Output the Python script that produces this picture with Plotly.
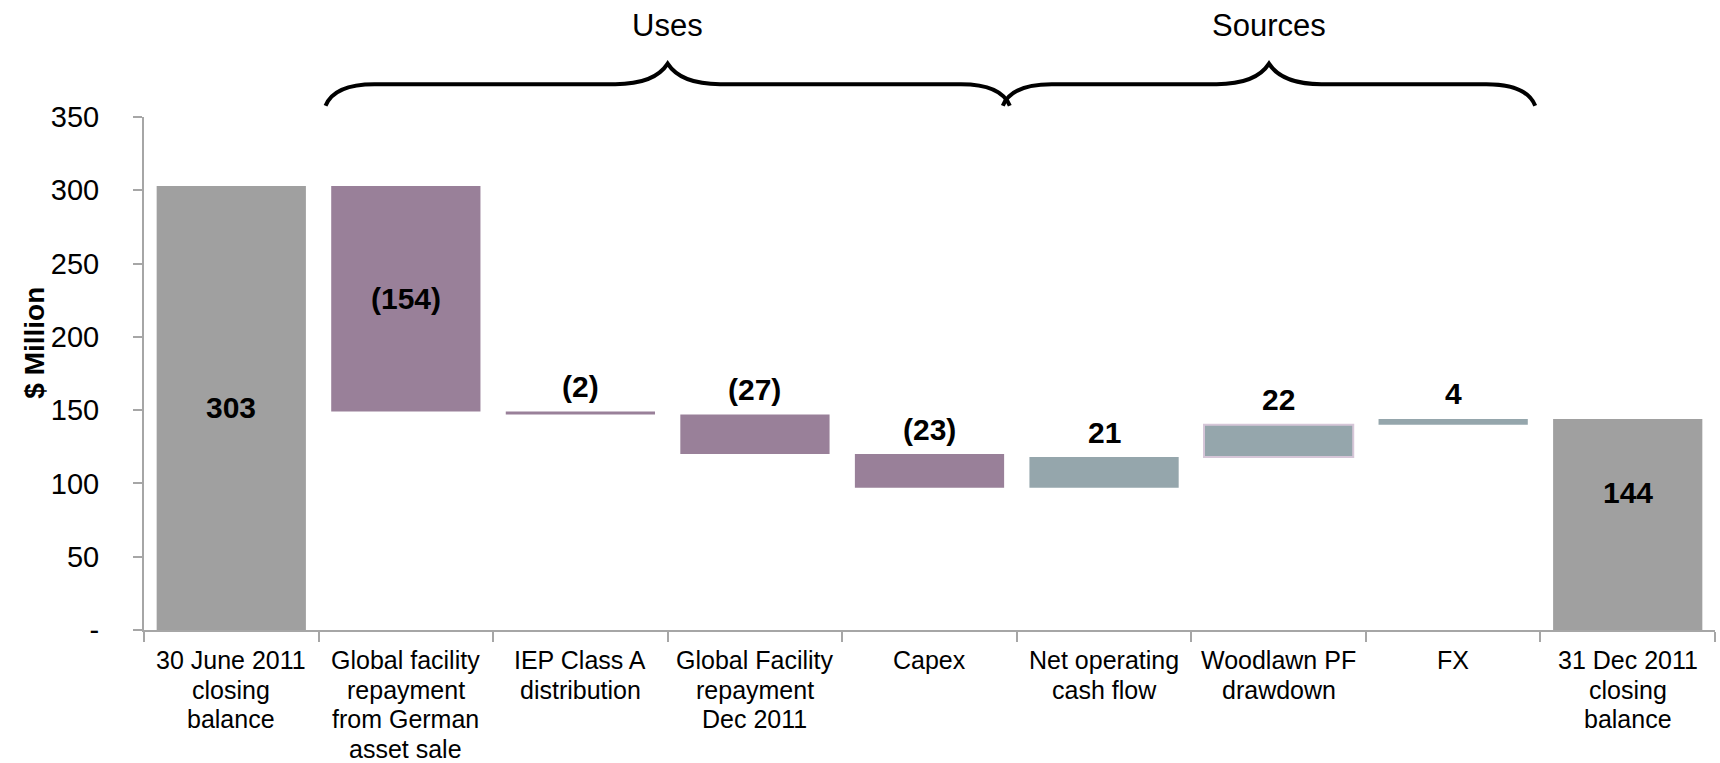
import plotly.graph_objects as go

categories = [
    "30 June 2011<br>closing<br>balance",
    "Global facility<br>repayment<br>from German<br>asset sale",
    "IEP Class A<br>distribution",
    "Global Facility<br>repayment<br>Dec 2011",
    "Capex",
    "Net operating<br>cash flow",
    "Woodlawn PF<br>drawdown",
    "FX",
    "31 Dec 2011<br>closing<br>balance",
]
opening = 303
changes = [-154, -2, -27, -23, 21, 22, 4]
y_ticks = [0, 50, 100, 150, 200, 250, 300, 350]
y_tick_text = ["-", "50", "100", "150", "200", "250", "300", "350"]
groups = [("Uses", 1, 4), ("Sources", 5, 7)]

FONT = "Liberation Sans, Arial, sans-serif"
TOTAL_COLOR = "#a0a0a0"
DOWN_COLOR = "#998099"
UP_COLOR = "#95a6ac"
# how far each brace reaches past its first / last bar centre
BRACE_PAD = {"Uses": (0.43, 0.43), "Sources": (0.55, 0.44)}

# running totals -> bar bases and heights
bases, heights, colors = [0], [opening], [TOTAL_COLOR]
level = opening
for c in changes:
    new_level = level + c
    bases.append(min(level, new_level))
    heights.append(abs(c))
    colors.append(DOWN_COLOR if c < 0 else UP_COLOR)
    level = new_level
closing = level
bases.append(0)
heights.append(closing)
colors.append(TOTAL_COLOR)
values = [opening] + changes + [closing]

line_colors = ["rgba(0,0,0,0)"] * len(categories)
line_colors[6] = "#d6c6d8"

fig = go.Figure()
fig.add_trace(go.Bar(x=categories, y=heights, base=bases,
                     marker={"color": colors,
                             "line": {"color": line_colors, "width": 2}},
                     showlegend=False, hoverinfo="skip"))

annotations = []
for i, (cat, v) in enumerate(zip(categories, values)):
    label = f"({abs(v)})" if v < 0 else f"{v}"
    top = bases[i] + heights[i]
    if heights[i] > 100:
        y, shift = bases[i] + heights[i] / 2, 0
        if i == len(categories) - 1:
            shift = 32
    else:
        y, shift = top, 25
    annotations.append(dict(x=cat, y=y, xref="x", yref="y", text=label,
                            showarrow=False, yanchor="middle", yshift=shift,
                            font={"family": FONT, "size": 30, "color": "black",
                                  "weight": "bold"}))

    # category labels with tighter line spacing than plotly ticks allow
    for j, line in enumerate(cat.split("<br>")):
        annotations.append(dict(x=cat, y=0, xref="x", yref="paper", text=line,
                                showarrow=False, yanchor="middle",
                                yshift=-(30 + j * 29.5),
                                font={"family": FONT, "size": 25, "color": "black"}))

# braces over the uses / sources groups
shapes = []
for name, start, end in groups:
    pad_l, pad_r = BRACE_PAD[name]
    x0, x1 = start - pad_l, end + pad_r
    xm = (x0 + x1) / 2
    y_end, y_flat, y_peak = 1.022, 1.064, 1.104
    a, b = 0.25, 0.3
    path = (f"M {x0 - 0.03},{y_end} Q {x0 + 0.02},{y_flat} {x0 + a},{y_flat} "
            f"L {xm - b},{y_flat} Q {xm - b * 0.25},{y_flat} {xm},{y_peak} "
            f"Q {xm + b * 0.25},{y_flat} {xm + b},{y_flat} "
            f"L {x1 - a},{y_flat} Q {x1 - 0.02},{y_flat} {x1 + 0.03},{y_end}")
    shapes.append(dict(type="path", path=path, xref="x", yref="paper",
                       line={"color": "black", "width": 4}))
    annotations.append(dict(x=xm, y=1.178, xref="x", yref="paper", text=name,
                            showarrow=False, yanchor="middle",
                            font={"family": FONT, "size": 31, "color": "black"}))

annotations.append(dict(x=0, y=0.56, xref="paper", yref="paper", text="$ Million",
                        showarrow=False, textangle=-90, xanchor="center",
                        yanchor="middle", xshift=-109,
                        font={"family": FONT, "size": 28, "color": "black",
                              "weight": "bold"}))

fig.update_layout(width=1720, height=763,
                  margin={"l": 144, "r": 5, "t": 117, "b": 133},
                  plot_bgcolor="white", paper_bgcolor="white",
                  bargap=0.145,
                  annotations=annotations, shapes=shapes,
                  xaxis={"type": "category", "range": [-0.5, 8.5],
                         "tickson": "boundaries", "ticks": "outside",
                         "ticklen": 10, "tickcolor": "#a6a6a6", "tickwidth": 2,
                         "showline": True, "linecolor": "#a6a6a6", "linewidth": 2,
                         "showticklabels": False, "showgrid": False},
                  yaxis={"range": [0, 350], "tickvals": y_ticks,
                         "ticktext": y_tick_text, "ticks": "outside",
                         "ticklen": 9, "tickcolor": "#a6a6a6", "tickwidth": 2,
                         "showline": True, "linecolor": "#a6a6a6", "linewidth": 2,
                         "showgrid": False, "zeroline": False,
                         "ticklabelstandoff": 28,
                         "tickfont": {"family": FONT, "size": 29, "color": "black"}})

fig.write_html("out.html", config={"displayModeBar": False},
               post_script="document.body.style.margin = '0';")
